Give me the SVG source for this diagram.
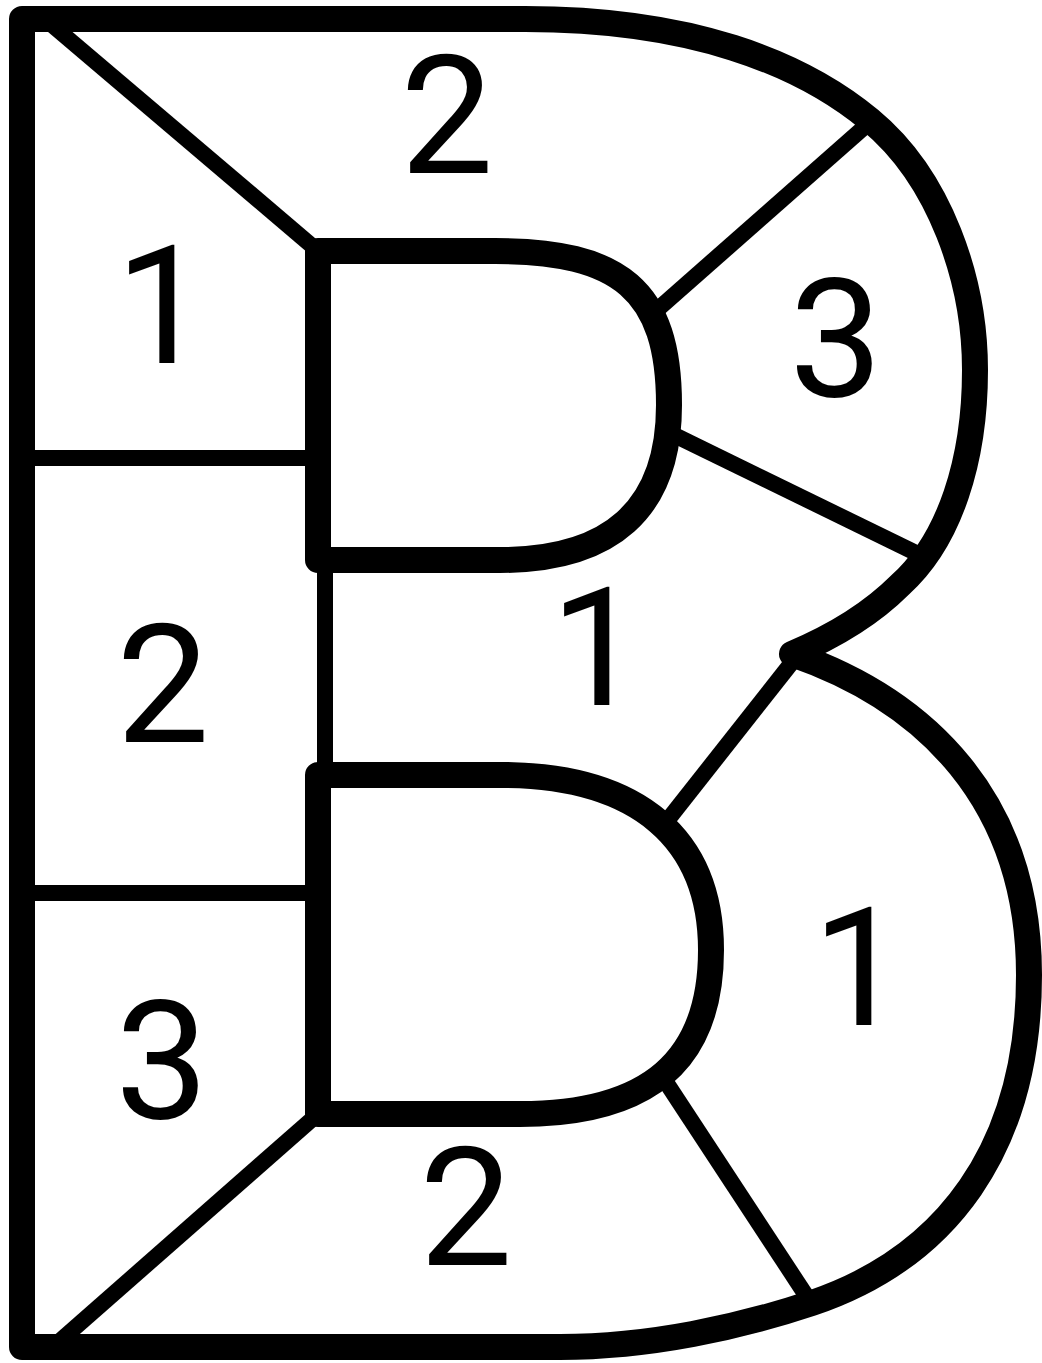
<svg xmlns="http://www.w3.org/2000/svg" width="1042" height="1363" viewBox="0 0 1042 1363">
<style>
.thick{fill:none;stroke:#000;stroke-width:26;stroke-linejoin:round;stroke-linecap:butt}
.thin{fill:none;stroke:#000;stroke-width:16;stroke-linecap:butt}
.num{font-family:Roboto,"Liberation Sans",sans-serif;font-size:166px;fill:#000;text-anchor:middle}
</style>
<rect width="1042" height="1363" fill="#fff"/>
<g id="dividers">
<line class="thin" x1="45" y1="19" x2="318" y2="251"/>
<line class="thin" x1="22" y1="458" x2="318" y2="458"/>
<line class="thin" x1="22" y1="893" x2="318" y2="893"/>
<line class="thin" x1="318" y1="1114" x2="53" y2="1347"/>
<line class="thin" x1="325" y1="560" x2="325" y2="775"/>
<line class="thin" x1="649" y1="317" x2="869" y2="123"/>
<line class="thin" x1="668" y1="432" x2="916" y2="553"/>
<line class="thin" x1="797" y1="656" x2="663" y2="826"/>
<line class="thin" x1="662" y1="1076" x2="811" y2="1303"/>
</g>
<g id="outline">
<path class="thick" d="M22,19 H525 C690,19 800,62 870,120 C940,178 975,280 975,370 C975,460 950,540 900,585 C870,615 830,638 792,654 C925,700 1029,800 1029,975 C1029,1150 945,1258 812,1303 C740,1327 650,1347 560,1347 H22 Z"/>
<path class="thick" d="M318,251 H495 C620,251 669,290 669,405 C669,510 610,560 500,560 H318 Z"/>
<path class="thick" d="M318,775 H500 C640,775 711,840 711,950 C711,1060 650,1114 520,1114 H318 Z"/>
</g>
<g id="labels">
<text class="num" x="447" y="173">2</text>
<text class="num" x="162" y="363">1</text>
<text class="num" x="836" y="396">3</text>
<text class="num" x="163" y="742">2</text>
<text class="num" x="597" y="705">1</text>
<text class="num" x="162" y="1118">3</text>
<text class="num" x="859" y="1025">1</text>
<text class="num" x="466" y="1265">2</text>
</g>
</svg>
